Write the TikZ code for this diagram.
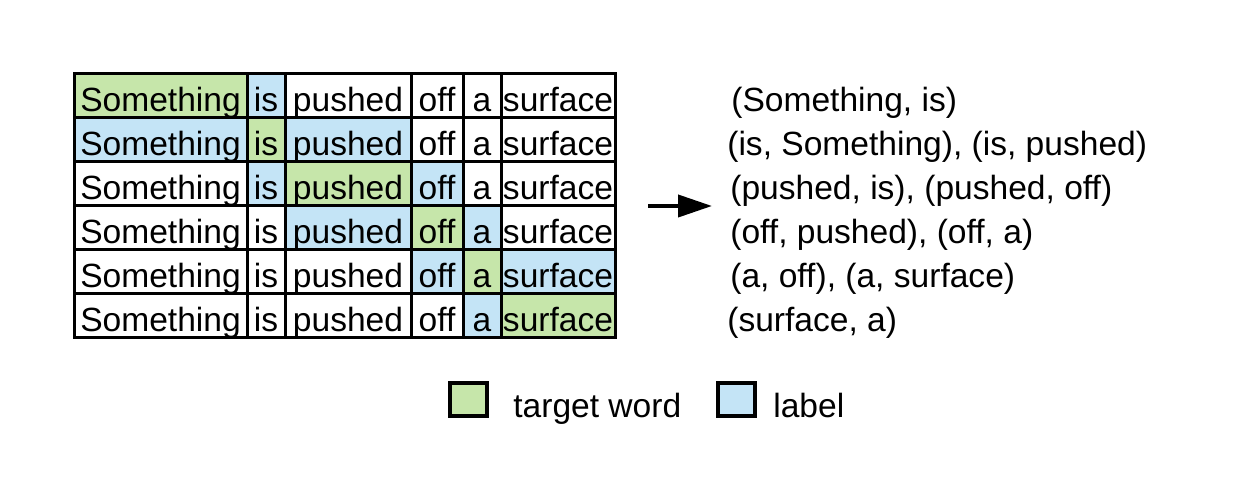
\documentclass[tikz,border=0pt]{standalone}
\usepackage{fontspec}
\setmainfont{Liberation Sans}
\usetikzlibrary{arrows.meta}
\definecolor{tgtgreen}{RGB}{198,230,170}
\definecolor{lblblue}{RGB}{196,228,246}

\begin{document}
\begin{tikzpicture}[
		font=\fontsize{19.1}{23}\selectfont,
		cell/.style={draw, line width=0.06cm, inner sep=0pt, minimum height=0.88cm, text height=0.72cm, text depth=0.1cm},
		pair/.style={anchor=base west, inner sep=0pt},
		keybox/.style={draw, line width=0.08cm, minimum width=0.74cm, minimum height=0.66cm, inner sep=0pt}]
		\useasboundingbox (0, 0) rectangle (24.76, -9.94);
		% the six windows over the sentence
		\foreach \r/\y in {1/-1.92, 2/-2.80, 3/-3.68, 4/-4.56, 5/-5.44, 6/-6.32} {
			\foreach \c/\x/\w/\word in {1/3.21/3.46/Something, 2/5.32/0.76/is, 3/6.96/2.52/pushed, 4/8.74/1.04/off, 5/9.64/0.76/a, 6/11.16/2.28/surface} {
				\pgfmathtruncatemacro\d{abs(\c-\r)}
				\ifnum\d=0 \def\cellfill{tgtgreen}\else\ifnum\d=1 \def\cellfill{lblblue}\else\def\cellfill{white}\fi\fi
				\node[cell, fill=\cellfill, minimum width=\w cm] (w\r\c) at (\x, \y) {\word};
			}
		}
		\node[pair] (pair1) at (14.62, -2.24) {(Something, is)};
		\node[pair] (pair2) at (14.54, -3.12) {(is, Something), (is, pushed)};
		\node[pair] (pair3) at (14.60, -4.00) {(pushed, is), (pushed, off)};
		\node[pair] (pair4) at (14.60, -4.88) {(off, pushed), (off, a)};
		\node[pair] (pair5) at (14.60, -5.76) {(a, off), (a, surface)};
		\node[pair] (pair6) at (14.54, -6.64) {(surface, a)};
		\coordinate (from) at (12.96, -4.12);
		\coordinate (to) at (14.24, -4.12);
		\draw[line width=0.08cm, -{Triangle[length=0.68cm, width=0.44cm]}] (from) -- (to);
		% legend
		\node[keybox, fill=tgtgreen] (keytgt) at (9.36, -8.0) {};
		\node[anchor=base west, inner sep=0pt] (keytgttext) at (10.26, -8.36) {target word};
		\node[keybox, fill=lblblue] (keylbl) at (14.73, -8.0) {};
		\node[anchor=base west, inner sep=0pt] (keylbltext) at (15.46, -8.36) {label};
	\end{tikzpicture}
\end{document}
